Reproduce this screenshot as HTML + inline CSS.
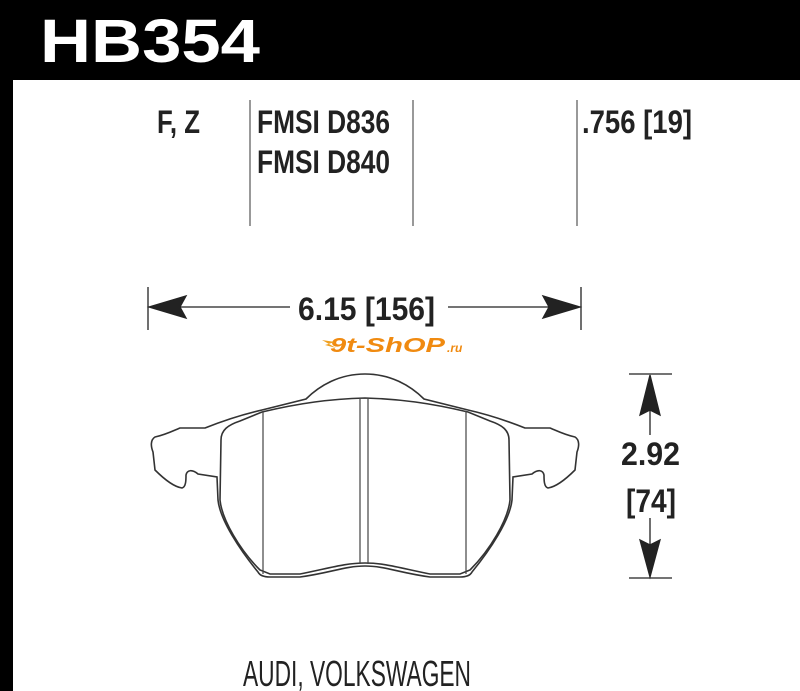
<!DOCTYPE html>
<html><head><style>html,body{margin:0;padding:0;background:#fff}svg{display:block}</style></head>
<body>
<svg width="800" height="691" viewBox="0 0 800 691" xmlns="http://www.w3.org/2000/svg" font-family="Liberation Sans, sans-serif" font-weight="bold">
<rect x="0" y="0" width="800" height="80" fill="#000"/>
<rect x="0" y="0" width="13" height="691" fill="#000"/>
<text x="40" y="62" font-size="61" fill="#fff" textLength="220" lengthAdjust="spacingAndGlyphs">HB354</text>
<g fill="#222" font-size="32">
<text x="157" y="133" textLength="43" lengthAdjust="spacingAndGlyphs">F, Z</text>
<text x="257" y="133" textLength="133" lengthAdjust="spacingAndGlyphs">FMSI D836</text>
<text x="257" y="173" textLength="133" lengthAdjust="spacingAndGlyphs">FMSI D840</text>
<text x="582" y="133" textLength="110" lengthAdjust="spacingAndGlyphs">.756 [19]</text>
<text x="298" y="320" textLength="137" lengthAdjust="spacingAndGlyphs">6.15 [156]</text>
<text x="621" y="465" textLength="59" lengthAdjust="spacingAndGlyphs">2.92</text>
<text x="626" y="512" textLength="50" lengthAdjust="spacingAndGlyphs">[74]</text>
<text x="243" y="686" font-size="36" font-weight="normal" textLength="228" lengthAdjust="spacingAndGlyphs">AUDI, VOLKSWAGEN</text>
</g>
<g stroke="#777" stroke-width="1.5">
<line x1="250" y1="100" x2="250" y2="226"/>
<line x1="413" y1="100" x2="413" y2="226"/>
<line x1="577" y1="100" x2="577" y2="226"/>
</g>
<g stroke="#222" stroke-width="1.3" fill="#222">
<line x1="148" y1="287" x2="148" y2="330"/>
<line x1="581" y1="287" x2="581" y2="330"/>
<line x1="150" y1="307" x2="290" y2="307"/>
<line x1="448" y1="307" x2="579" y2="307"/>
<path d="M149,307 L186,296 L180,307 L186,318 Z"/>
<path d="M580,307 L543,296 L549,307 L543,318 Z"/>
<line x1="629" y1="374" x2="672" y2="374"/>
<line x1="629" y1="578" x2="672" y2="578"/>
<line x1="650" y1="376" x2="650" y2="435"/>
<line x1="650" y1="518" x2="650" y2="576"/>
<path d="M650,375 L640,415 L650,410 L660,415 Z"/>
<path d="M650,577 L640,540 L650,545 L660,540 Z"/>
</g>
<text x="330" y="352" font-size="20" font-style="italic" fill="#f08a10" textLength="115" lengthAdjust="spacingAndGlyphs">9t-ShOP</text>
<text x="447" y="352" font-size="12" font-style="italic" fill="#f08a10">.ru</text>
<path d="M322,340 L335,342 L325,345 L336,348 Z" fill="#f0a020"/>
<g fill="none" stroke="#333" stroke-width="1.6">
<path d="M365,374 C340,374 320,385 306,399 L262,410 C240,415 220,422 205,428 L180,428 C175,430 165,435 155,437 C150,440 151,447 153,452 L155,470 C165,480 175,487 182,488 C186,487 186,480 186,475 C187,470 192,469 198,474 L217,477 L218,500 C220,520 240,550 258,572 C260,576 265,577 270,577 L300,577 C330,573 345,566 365,566 C385,566 400,573 430,577 L460,577 C465,577 470,576 472,572 C490,550 510,520 512,500 L513,477 L532,474 C538,469 543,470 544,475 C544,480 544,487 548,488 C555,487 565,480 575,470 L577,452 C579,447 580,440 575,437 C565,435 555,430 550,428 L525,428 C510,422 490,415 468,410 L424,399 C410,385 390,374 365,374 Z"/>
<path d="M221,440 C221,430 228,425 240,421 L262,412 C300,403 330,399 365,398 C400,399 430,403 468,412 L490,421 C502,425 509,430 509,440 L510,500 C508,520 490,550 470,570 L460,574 L430,574 C400,568 385,563 365,563 C345,563 330,568 300,574 L270,574 L260,570 C240,550 222,520 220,500 Z"/>
</g>
<g stroke="#444" stroke-width="1.2">
<line x1="263" y1="411" x2="263" y2="574"/>
<line x1="466" y1="411" x2="466" y2="574"/>
<line x1="360" y1="398" x2="360" y2="564"/>
<line x1="368" y1="398" x2="368" y2="564"/>
</g>
</svg>
</body></html>
